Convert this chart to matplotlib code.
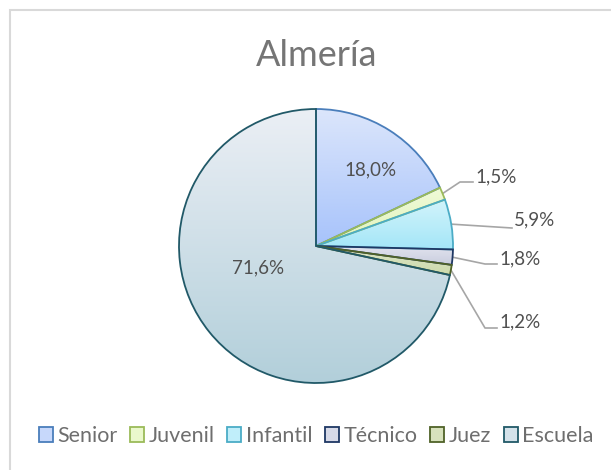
import numpy as np
import matplotlib
matplotlib.use("Agg")
import matplotlib.pyplot as plt
from matplotlib.patches import Wedge, Rectangle
from matplotlib.colors import LinearSegmentedColormap

plt.rcParams['font.family'] = ['Lato', 'DejaVu Sans']

# datos
categorias = ['Senior', 'Juvenil', 'Infantil', 'Técnico', 'Juez', 'Escuela']
valores = [18.0, 1.5, 5.9, 1.8, 1.2, 71.6]
etiquetas = ['18,0%', '1,5%', '5,9%', '1,8%', '1,2%', '71,6%']

# colores (arriba, abajo, borde)
col_arriba = ['#DCE6FB', '#F0FAD8', '#D3F4FB', '#E1E3EE', '#DEE6C8', '#EBEFF5']
col_abajo = ['#A7C3FB', '#E0F4BA', '#A4E6F8', '#C9CDDE', '#CCDAAB', '#B2CFDA']
col_borde = ['#4A7EBB', '#9BBB59', '#4BACC6', '#1F3864', '#4F6228', '#215968']

W, H = 611, 470
cx, cy, R = 316, 246, 137  # centro y radio en pixeles

fig = plt.figure(figsize=(W / 100, H / 100), dpi=100)
ax = fig.add_axes([0, 0, 1, 1])
ax.set_aspect('equal')
ax.axis('off')

def px(x, y):
    return (x - cx) / R, (cy - y) / R

# marco del grafico
x0, y0 = px(10, 10)
x1, y1 = px(W + 5, H + 5)
ax.add_patch(Rectangle((x0, y1), x1 - x0, y0 - y1, fill=False,
                       edgecolor='#D9D9D9', lw=1.5, zorder=0))

total = sum(valores)
ang = 90.0
mids = []
handles = []
for i, v in enumerate(valores):
    a2 = ang
    a1 = ang - v / total * 360
    mids.append(np.deg2rad((a1 + a2) / 2))
    cmap = LinearSegmentedColormap.from_list('g', [col_abajo[i], col_arriba[i]])
    w = Wedge((0, 0), 1, a1, a2, facecolor=cmap(0.5), edgecolor='none', zorder=2)
    ax.add_patch(w)
    bb = w.get_path().get_extents()
    grad = np.linspace(0, 1, 256).reshape(-1, 1)
    im = ax.imshow(grad, cmap=cmap, origin='lower', aspect='auto',
                   extent=(bb.x0, bb.x1, bb.y0, bb.y1), zorder=3)
    im.set_clip_path(w)
    ax.add_patch(Wedge((0, 0), 1, a1, a2, facecolor='none',
                       edgecolor=col_borde[i], lw=1.3, zorder=4))
    handles.append(Rectangle((0, 0), 1, 1, facecolor=cmap(0.6),
                             edgecolor=col_borde[i], lw=1.3))
    ang = a1

ax.set_xlim(-cx / R, (W - cx) / R)
ax.set_ylim((cy - H) / R, cy / R)

txt = '#505050'
# etiquetas interiores
ax.text(*px(371, 170), etiquetas[0], ha='center', va='center', fontsize=13.5, color=txt, zorder=5)
ax.text(*px(258, 268), etiquetas[5], ha='center', va='center', fontsize=13.5, color=txt, zorder=5)

# etiquetas exteriores con lineas guia
fuera = {1: [(460, 182), (473, 182)],
         2: [(512, 228)],
         3: [(485, 264), (497, 264)],
         4: [(485, 328), (497, 328)]}
pos_txt = {1: (475, 177), 2: (514, 220), 3: (499, 259), 4: (499, 322)}
for i, pts in fuera.items():
    m = mids[i]
    xs = [np.cos(m)] + [px(*p)[0] for p in pts]
    ys = [np.sin(m)] + [px(*p)[1] for p in pts]
    ax.plot(xs, ys, color='#A6A6A6', lw=1.2, zorder=1)
    ax.text(*px(*pos_txt[i]), etiquetas[i], ha='left', va='center',
            fontsize=13.5, color=txt)

ax.text(*px(317, 55), 'Almería', ha='center', va='center', fontsize=26, color='#757575')

leg = ax.legend(handles, categorias, loc='center', bbox_to_anchor=px(316, 436),
                bbox_transform=ax.transData, ncol=6, frameon=False,
                fontsize=15.5, handlelength=0.65, handleheight=0.65,
                handletextpad=0.2, columnspacing=0.6, labelcolor='#6E6E6E',
                borderpad=0, borderaxespad=0)

fig.savefig('out.png', dpi=100)
